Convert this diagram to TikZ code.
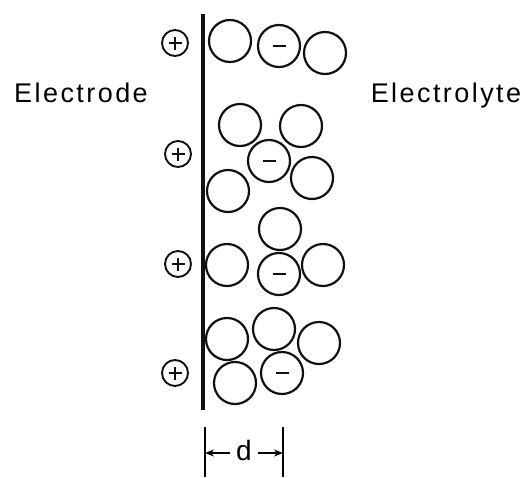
\documentclass[tikz,border=0pt]{standalone}
\usepackage{fontspec}
\setmainfont{Liberation Sans}
\newfontfamily\labelfont[LetterSpace=9]{Liberation Sans}
\usetikzlibrary{arrows.meta}
\begin{document}
\begin{tikzpicture}[x=1pt, y=-1pt,
    solvent/.style={circle, draw=borderColour, line width=2.2pt, minimum size=42pt, inner sep=0pt},
    anion/.style={solvent, path picture={\draw[line width=1.9pt] ([xshift=-6.5pt]path picture bounding box.center) -- ++(13pt,0);}},
    cation/.style={circle, draw=borderColour, line width=1.9pt, minimum size=26pt, inner sep=0pt,
        path picture={\draw[line width=1.6pt] ([xshift=-6.5pt]path picture bounding box.center) -- ++(13pt,0)
            ([yshift=-6.5pt]path picture bounding box.center) -- ++(0,13pt);}},
    sidelabel/.style={font=\fontsize{27}{30}\labelfont, anchor=base}]

    \definecolor{borderColour}{HTML}{111111}

    % Fix page size
    \useasboundingbox (0,0) rectangle (527,477);

    % Draw electrode surface
    \coordinate (Etop) at (203,14);
    \coordinate (Ebot) at (203,410);
    \draw[line width=3.2pt, draw=borderColour] (Etop) -- (Ebot);

    % Labels of both sides
    \node[sidelabel] (electrode) at (81,102) {Electrode};
    \node[sidelabel] (electrolyte) at (446,102) {Electrolyte};

    % First row of ions
    \node[cation] (p1) at (175,43) {};
    \node[solvent] (w1) at (230,41) {};
    \node[anion] (a1) at (279,46) {};
    \node[solvent] (w2) at (325,53) {};

    % Second row of ions
    \node[cation] (p2) at (178,154) {};
    \node[solvent] (w3) at (240,125) {};
    \node[solvent] (w4) at (301,126) {};
    \node[anion] (a2) at (269,161) {};
    \node[solvent] (w5) at (312,178) {};
    \node[solvent] (w6) at (228,191) {};

    % Third row of ions
    \node[solvent] (w7) at (280,229) {};
    \node[cation] (p3) at (178,264) {};
    \node[solvent] (w8) at (227,265) {};
    \node[anion] (a3) at (279,274) {};
    \node[solvent] (w9) at (323,265) {};

    % Fourth row of ions
    \node[solvent] (w10) at (227,339) {};
    \node[solvent] (w11) at (274,329) {};
    \node[solvent] (w12) at (319,343) {};
    \node[solvent] (w13) at (235,383) {};
    \node[anion] (a4) at (282,373) {};
    \node[cation] (p4) at (175,373) {};

    % Draw thickness d
    \coordinate (dLtop) at (205,427);
    \coordinate (dLbot) at (205,477);
    \coordinate (dRtop) at (283,427);
    \coordinate (dRbot) at (283,477);
    \draw[line width=2pt] (dLtop) -- (dLbot);
    \draw[line width=2pt] (dRtop) -- (dRbot);
    \node[font=\fontsize{28}{30}\selectfont, inner sep=6pt] (d) at (244,450) {d};
    \draw[line width=2pt, -{Stealth[length=9pt,width=7pt]}] (d.west |- 0,453) -- (dLtop |- 0,453);
    \draw[line width=2pt, -{Stealth[length=9pt,width=7pt]}] (d.east |- 0,453) -- (dRtop |- 0,453);

\end{tikzpicture}
\end{document}
